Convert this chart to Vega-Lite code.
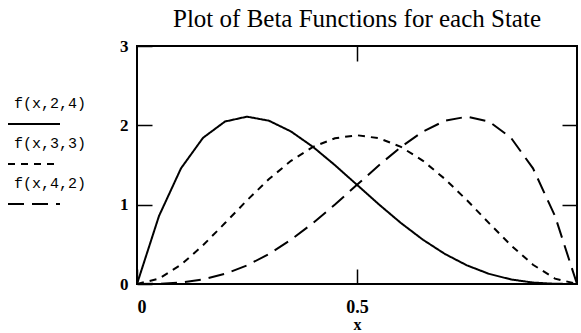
{
  "$schema": "https://vega.github.io/schema/vega-lite/v6.json",
  "width": 440,
  "height": 238,
  "autosize": "none",
  "padding": {"left": 137, "top": 46, "right": 4, "bottom": 49},
  "background": "white",
  "title": {
    "text": "Plot of Beta Functions for each State",
    "font": "Liberation Serif",
    "fontSize": 25,
    "fontWeight": "normal",
    "color": "black",
    "anchor": "middle",
    "offset": 5
  },
  "data": {
    "values": [
      {"x": 0, "y": 0, "fn": "f(x,2,4)"},
      {"x": 0.05, "y": 0.8574, "fn": "f(x,2,4)"},
      {"x": 0.1, "y": 1.458, "fn": "f(x,2,4)"},
      {"x": 0.15, "y": 1.8424, "fn": "f(x,2,4)"},
      {"x": 0.2, "y": 2.048, "fn": "f(x,2,4)"},
      {"x": 0.25, "y": 2.1094, "fn": "f(x,2,4)"},
      {"x": 0.3, "y": 2.058, "fn": "f(x,2,4)"},
      {"x": 0.35, "y": 1.9224, "fn": "f(x,2,4)"},
      {"x": 0.4, "y": 1.728, "fn": "f(x,2,4)"},
      {"x": 0.45, "y": 1.4974, "fn": "f(x,2,4)"},
      {"x": 0.5, "y": 1.25, "fn": "f(x,2,4)"},
      {"x": 0.55, "y": 1.0024, "fn": "f(x,2,4)"},
      {"x": 0.6, "y": 0.768, "fn": "f(x,2,4)"},
      {"x": 0.65, "y": 0.5574, "fn": "f(x,2,4)"},
      {"x": 0.7, "y": 0.378, "fn": "f(x,2,4)"},
      {"x": 0.75, "y": 0.2344, "fn": "f(x,2,4)"},
      {"x": 0.8, "y": 0.128, "fn": "f(x,2,4)"},
      {"x": 0.85, "y": 0.0574, "fn": "f(x,2,4)"},
      {"x": 0.9, "y": 0.018, "fn": "f(x,2,4)"},
      {"x": 0.95, "y": 0.0024, "fn": "f(x,2,4)"},
      {"x": 1, "y": 0, "fn": "f(x,2,4)"},
      {"x": 0, "y": 0, "fn": "f(x,3,3)"},
      {"x": 0.05, "y": 0.0677, "fn": "f(x,3,3)"},
      {"x": 0.1, "y": 0.243, "fn": "f(x,3,3)"},
      {"x": 0.15, "y": 0.4877, "fn": "f(x,3,3)"},
      {"x": 0.2, "y": 0.768, "fn": "f(x,3,3)"},
      {"x": 0.25, "y": 1.0547, "fn": "f(x,3,3)"},
      {"x": 0.3, "y": 1.323, "fn": "f(x,3,3)"},
      {"x": 0.35, "y": 1.5527, "fn": "f(x,3,3)"},
      {"x": 0.4, "y": 1.728, "fn": "f(x,3,3)"},
      {"x": 0.45, "y": 1.8377, "fn": "f(x,3,3)"},
      {"x": 0.5, "y": 1.875, "fn": "f(x,3,3)"},
      {"x": 0.55, "y": 1.8377, "fn": "f(x,3,3)"},
      {"x": 0.6, "y": 1.728, "fn": "f(x,3,3)"},
      {"x": 0.65, "y": 1.5527, "fn": "f(x,3,3)"},
      {"x": 0.7, "y": 1.323, "fn": "f(x,3,3)"},
      {"x": 0.75, "y": 1.0547, "fn": "f(x,3,3)"},
      {"x": 0.8, "y": 0.768, "fn": "f(x,3,3)"},
      {"x": 0.85, "y": 0.4877, "fn": "f(x,3,3)"},
      {"x": 0.9, "y": 0.243, "fn": "f(x,3,3)"},
      {"x": 0.95, "y": 0.0677, "fn": "f(x,3,3)"},
      {"x": 1, "y": 0, "fn": "f(x,3,3)"},
      {"x": 0, "y": 0, "fn": "f(x,4,2)"},
      {"x": 0.05, "y": 0.0024, "fn": "f(x,4,2)"},
      {"x": 0.1, "y": 0.018, "fn": "f(x,4,2)"},
      {"x": 0.15, "y": 0.0574, "fn": "f(x,4,2)"},
      {"x": 0.2, "y": 0.128, "fn": "f(x,4,2)"},
      {"x": 0.25, "y": 0.2344, "fn": "f(x,4,2)"},
      {"x": 0.3, "y": 0.378, "fn": "f(x,4,2)"},
      {"x": 0.35, "y": 0.5574, "fn": "f(x,4,2)"},
      {"x": 0.4, "y": 0.768, "fn": "f(x,4,2)"},
      {"x": 0.45, "y": 1.0024, "fn": "f(x,4,2)"},
      {"x": 0.5, "y": 1.25, "fn": "f(x,4,2)"},
      {"x": 0.55, "y": 1.4974, "fn": "f(x,4,2)"},
      {"x": 0.6, "y": 1.728, "fn": "f(x,4,2)"},
      {"x": 0.65, "y": 1.9224, "fn": "f(x,4,2)"},
      {"x": 0.7, "y": 2.058, "fn": "f(x,4,2)"},
      {"x": 0.75, "y": 2.1094, "fn": "f(x,4,2)"},
      {"x": 0.8, "y": 2.048, "fn": "f(x,4,2)"},
      {"x": 0.85, "y": 1.8424, "fn": "f(x,4,2)"},
      {"x": 0.9, "y": 1.458, "fn": "f(x,4,2)"},
      {"x": 0.95, "y": 0.8574, "fn": "f(x,4,2)"},
      {"x": 1, "y": 0, "fn": "f(x,4,2)"}
    ]
  },
  "layer": [
    {
      "mark": {"type": "line", "color": "black", "strokeWidth": 2, "clip": true},
      "encoding": {
        "x": {
          "field": "x", "type": "quantitative",
          "scale": {"domain": [0, 1], "nice": false, "zero": false},
          "axis": {
            "orient": "bottom", "values": [0, 0.5], "title": "x",
            "titleFont": "Liberation Serif", "titleFontSize": 16, "titleFontWeight": "bold",
            "titleColor": "black", "titlePadding": 0,
            "labelFont": "Liberation Serif", "labelFontSize": 18, "labelFontWeight": "bold",
            "labelColor": "black", "labelPadding": 29, "labelExpr": "datum.value == 0 ? '0' : '0.5'",
            "tickSize": -15, "tickColor": "black", "tickWidth": 1.5,
            "domain": false, "grid": false
          }
        },
        "y": {
          "field": "y", "type": "quantitative",
          "scale": {"domain": [0, 3], "nice": false},
          "axis": {
            "orient": "left", "values": [0, 1, 2, 3], "title": null,
            "labelFont": "Liberation Serif", "labelFontSize": 17, "labelFontWeight": "bold",
            "labelColor": "black", "labelPadding": 24,
            "tickSize": -15, "tickColor": "black", "tickWidth": 1.5,
            "domain": false, "grid": false
          }
        },
        "detail": {"field": "fn"},
        "strokeDash": {
          "field": "fn", "type": "nominal",
          "scale": {
            "domain": ["f(x,2,4)", "f(x,3,3)", "f(x,4,2)"],
            "range": [[1, 0], [7, 6], [16, 8]]
          },
          "legend": {
            "title": null,
            "orient": "none",
            "legendX": -130,
            "legendY": 51,
            "padding": 0,
            "symbolType": "stroke",
            "symbolSize": 2704,
            "symbolStrokeWidth": 2,
            "symbolStrokeColor": "black",
            "rowPadding": 8,
            "labelFont": "Liberation Mono",
            "labelFontSize": 15,
            "labelColor": "black",
            "labelOffset": -47,
            "labelAlign": "left",
            "encode": {"labels": {"update": {"dy": {"value": -21}}}}
          }
        }
      }
    },
    {
      "mark": {"type": "line", "opacity": 0},
      "encoding": {
        "x": {
          "field": "x", "type": "quantitative",
          "axis": {
            "orient": "top", "values": [0.5], "title": null, "labels": false,
            "tickSize": -15, "tickColor": "black", "tickWidth": 1.5,
            "domain": false, "grid": false
          }
        },
        "y": {
          "field": "y", "type": "quantitative",
          "axis": {
            "orient": "right", "values": [1, 2], "title": null, "labels": false,
            "tickSize": -15, "tickColor": "black", "tickWidth": 1.5,
            "domain": false, "grid": false
          }
        },
        "detail": {"field": "fn"}
      }
    }
  ],
  "resolve": {"axis": {"x": "independent", "y": "independent"}},
  "config": {
    "view": {"stroke": "black", "strokeWidth": 2}
  }
}
